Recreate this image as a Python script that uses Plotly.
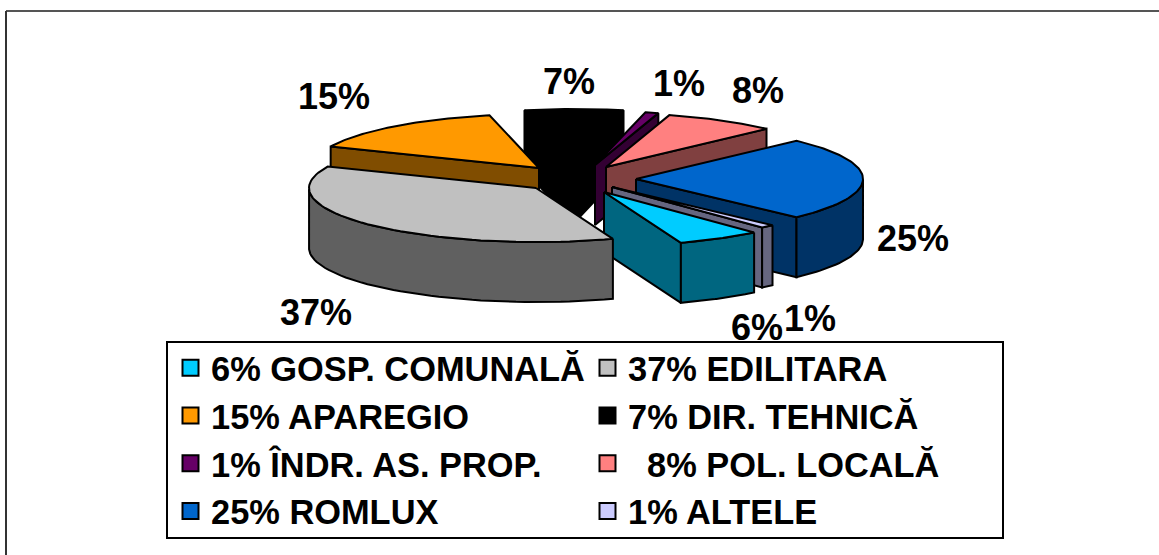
import numpy as np
import plotly.graph_objects as go

# ---- data ----
departments = ["GOSP. COMUNALĂ", "EDILITARA", "APAREGIO", "DIR. TEHNICĂ",
               "ÎNDR. AS. PROP.", "POL. LOCALĂ", "ROMLUX", "ALTELE"]
shares = [6, 37, 15, 7, 1, 8, 25, 1]
legend_prefix = ["", "", "", "", "", "\u00a0\u00a0", "", ""]

# ---- styles ----
top_colors = ["#00CCFF", "#C0C0C0", "#FF9900", "#000000", "#660066", "#FF8080", "#0066CC", "#CCCCFF"]
side_colors = ["#006680", "#606060", "#804D00", "#000000", "#330033", "#804040", "#003366", "#666680"]

# ---- pie geometry (pixel scale of the page) ----
RX, RY, DEPTH = 227, 54, 60
FIRST_ANGLE = 48.6            # clockwise from 3 o'clock, where the first slice begins
apex_x = [604, 536, 539, 574, 595, 606, 636, 612]   # exploded slice tips
apex_y = [192, 188, 168, 163, 165, 167, 179, 187]
paint_order = [3, 4, 5, 6, 7, 0, 2, 1]              # back to front

label_x = [757, 316, 334, 569, 679, 758, 913, 810]
label_y = [327, 312, 96, 81, 83, 90, 238, 318]

total = sum(shares)
edges = FIRST_ANGLE + np.concatenate([[0], np.cumsum(shares)]) * 360.0 / total


def rim(cx, cy, a0, a1, n=60):
    t = np.radians(np.linspace(a0, a1, n))
    return cx + RX * np.cos(t), cy + RY * np.sin(t)


def poly(fig, xs, ys, color):
    fig.add_trace(go.Scatter(
        x=np.append(xs, xs[0]), y=np.append(ys, ys[0]), mode="lines", fill="toself",
        fillcolor=color, line=dict(color="black", width=2), showlegend=False, hoverinfo="skip"))


fig = go.Figure()

for i in paint_order:
    cx, cy = apex_x[i], apex_y[i]
    a0, a1 = edges[i], edges[i + 1]
    rx, ry = rim(cx, cy, a0, a1)
    # cut walls, only where they face the viewer
    if np.cos(np.radians(a0)) < 0:
        poly(fig, np.array([cx, rx[0], rx[0], cx]), np.array([cy, ry[0], ry[0] + DEPTH, cy + DEPTH]), side_colors[i])
    if np.cos(np.radians(a1)) > 0:
        poly(fig, np.array([cx, rx[-1], rx[-1], cx]), np.array([cy, ry[-1], ry[-1] + DEPTH, cy + DEPTH]), side_colors[i])
    # outer wall (front-facing part of the arc only)
    angles = np.linspace(a0, a1, 60)
    front = np.sin(np.radians(angles)) > 0
    if front.any():
        fx, fy = rx[front], ry[front]
        poly(fig, np.concatenate([fx, fx[::-1]]), np.concatenate([fy, fy[::-1] + DEPTH]), side_colors[i])
    # top face
    poly(fig, np.concatenate([[cx], rx]), np.concatenate([[cy], ry]), top_colors[i])

# legend entries
for name, v, c, p in zip(departments, shares, top_colors, legend_prefix):
    fig.add_trace(go.Scatter(
        x=[None], y=[None], mode="markers", name=f"{p}{v}% {name}",
        marker=dict(symbol="square", size=17, color=c, line=dict(color="black", width=2))))

# percentage labels
for v, x, y in zip(shares, label_x, label_y):
    fig.add_annotation(x=x, y=y, text=f"<b>{v}%</b>", showarrow=False, xref="x", yref="y",
                       font=dict(family="Liberation Sans", size=36, color="black"))

fig.update_layout(
    width=1159, height=555, margin=dict(l=0, r=0, t=0, b=0),
    paper_bgcolor="white", plot_bgcolor="white",
    xaxis=dict(range=[0, 1159], visible=False, fixedrange=True),
    yaxis=dict(range=[555, 0], visible=False, fixedrange=True),
    showlegend=True,
    legend=dict(
        orientation="h", x=170 / 1159, y=1 - 339 / 555, xanchor="left", yanchor="top",
        entrywidth=371, entrywidthmode="pixels", itemwidth=31, itemsizing="trace",
        bgcolor="rgba(0,0,0,0)", borderwidth=0,
        font=dict(family="Liberation Sans", size=34.4, color="black", weight="bold")),
    shapes=[
        dict(type="line", xref="paper", yref="paper", x0=6 / 1159, x1=1, y0=1 - 11 / 555, y1=1 - 11 / 555,
             line=dict(color="#555555", width=2)),
        dict(type="line", xref="paper", yref="paper", x0=6 / 1159, x1=6 / 1159, y0=0, y1=1 - 11 / 555,
             line=dict(color="#333333", width=2)),
        dict(type="rect", xref="paper", yref="paper", x0=167 / 1159, x1=1003 / 1159,
             y0=1 - 538 / 555, y1=1 - 342 / 555, fillcolor="white", line=dict(color="black", width=2)),
    ],
)

fig.write_html("out.html", config={"displayModeBar": False},
               post_script="document.body.style.margin='0';document.body.style.overflow='hidden';")
